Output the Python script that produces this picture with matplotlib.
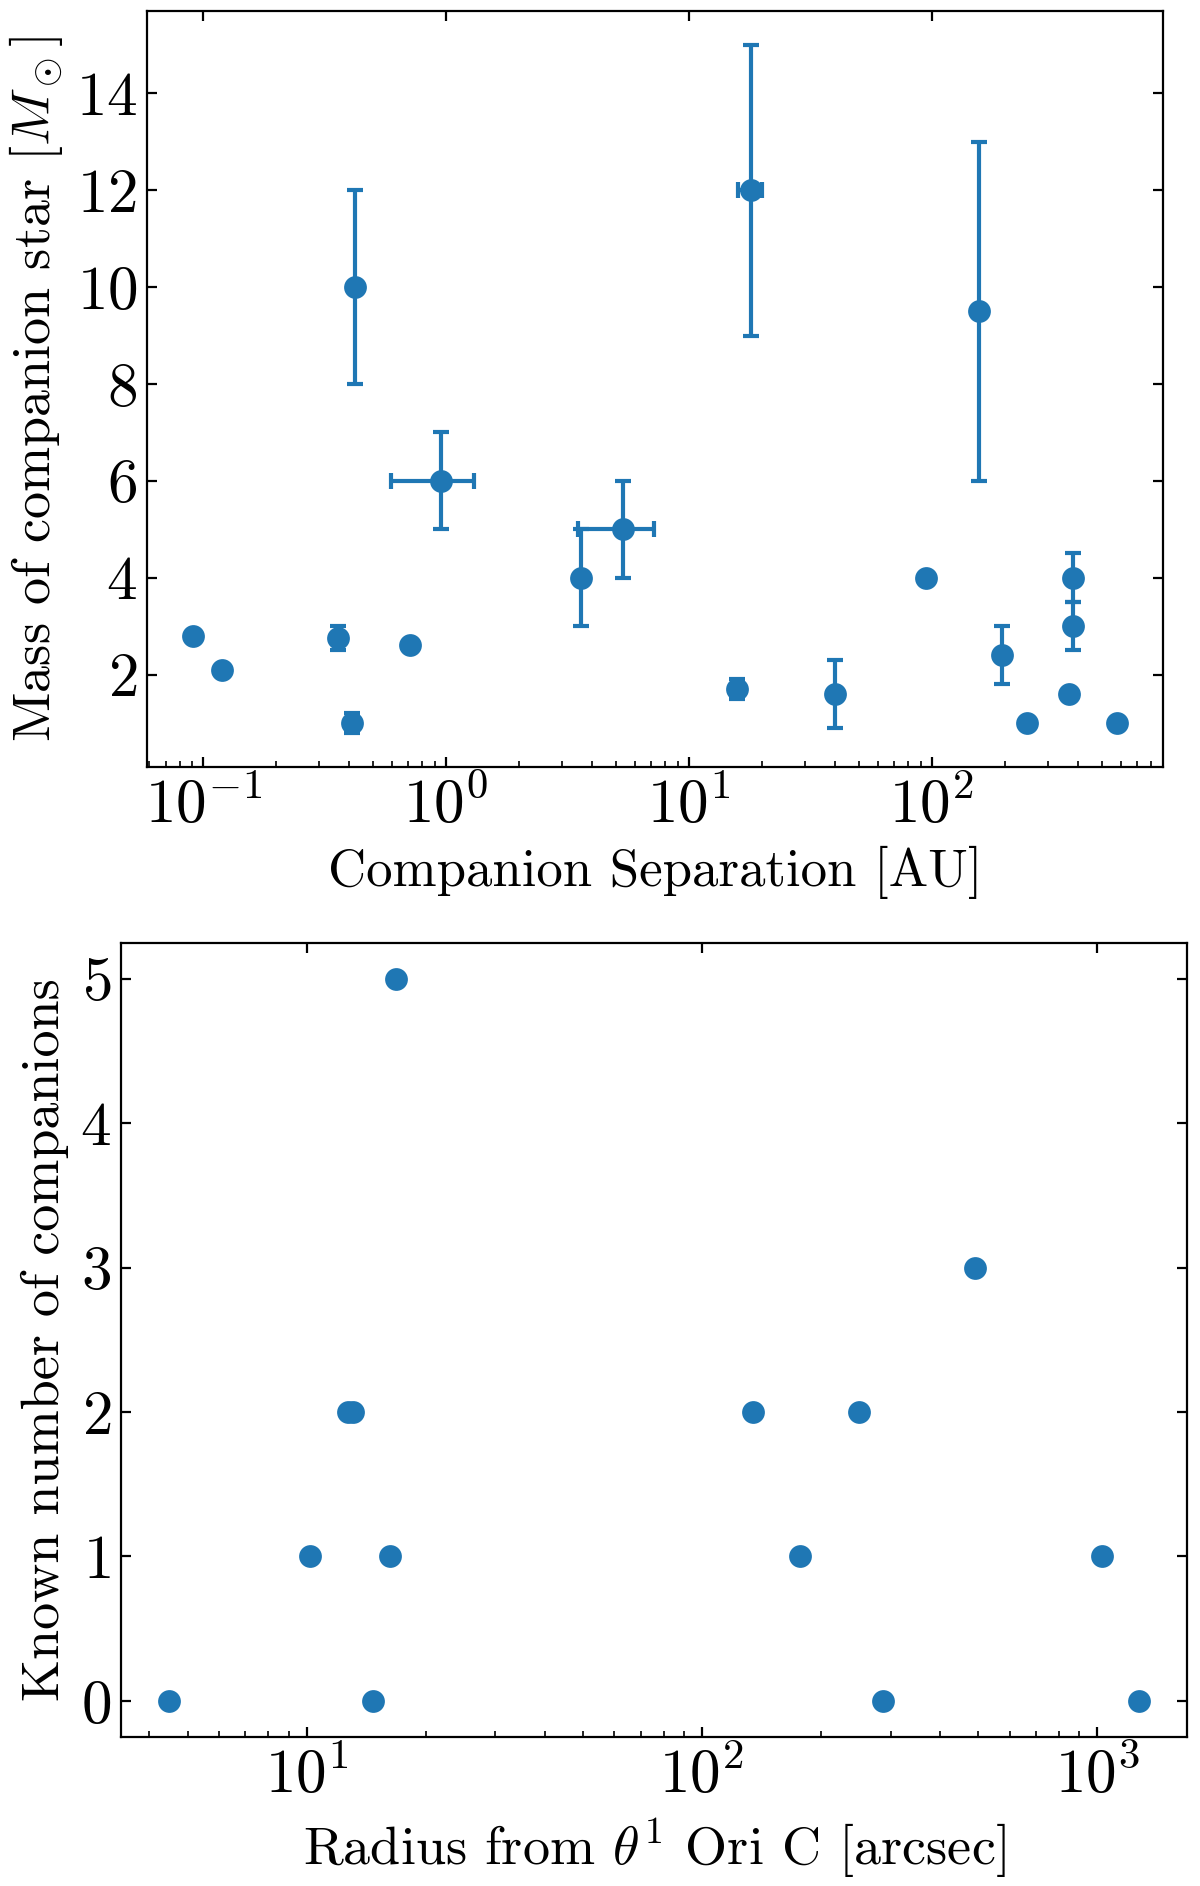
import numpy as np
import matplotlib
matplotlib.use("Agg")
import matplotlib.pyplot as plt
from matplotlib.ticker import MultipleLocator

plt.rcParams['font.family'] = 'serif'
plt.rcParams['font.serif'] = ['cmr10']
plt.rcParams['mathtext.fontset'] = 'cm'
plt.rcParams['axes.formatter.use_mathtext'] = True
plt.rcParams['axes.unicode_minus'] = False

# top panel: companion separation vs companion mass
sep = [0.091, 0.12, 0.36, 0.41, 0.42, 0.71, 0.95, 3.6, 5.36, 15.8,
       18.0, 40.0, 95.0, 157.0, 195.0, 247.0, 366.0, 381.0, 381.0, 578.0]
sep_err = [0, 0, 0, 0, 0, 0, 0.355, 0, 1.85, 0,
           2.0, 0, 0, 0, 0, 0, 0, 0, 0, 0]
mass = [2.8, 2.1, 2.75, 1.0, 10.0, 2.6, 6.0, 4.0, 5.0, 1.7,
        12.0, 1.6, 4.0, 9.5, 2.4, 1.0, 1.6, 4.0, 3.0, 1.0]
mass_err = [0, 0, 0.25, 0.2, 2.0, 0, 1.0, 1.0, 1.0, 0.2,
            3.0, 0.7, 0, 3.5, 0.6, 0, 0, 0.5, 0.5, 0]

# bottom panel: distance from theta1 Ori C vs number of companions
radius = [4.49, 10.2, 12.7, 13.1, 14.7, 16.2, 16.8,
          134.6, 177.0, 250.0, 287.0, 490.0, 1026.0, 1271.0]
n_comp = [0, 1, 2, 2, 0, 1, 5,
          2, 1, 2, 0, 3, 1, 0]

fig = plt.figure(figsize=(6.0, 9.43), dpi=200)

ax1 = fig.add_axes([0.1225, 0.5933, 0.8467, 0.4011])
ax1.errorbar(sep, mass, xerr=sep_err, yerr=mass_err, fmt='o', color='C0',
             markersize=7.2, elinewidth=1.5, capsize=3, capthick=1.5)
ax1.set_xscale('log')
ax1.yaxis.set_major_locator(MultipleLocator(2))
ax1.set_xlabel('Companion Separation [AU]', fontsize=19)
ax1.set_ylabel(r'Mass of companion star [$M_\odot$]', fontsize=19.5)

ax2 = fig.add_axes([0.1006, 0.0790, 0.8886, 0.4212])
ax2.plot(radius, n_comp, 'o', color='C0', markersize=7.2)
ax2.set_xscale('log')
ax2.set_xlabel(r'Radius from $\theta^1$ Ori C [arcsec]', fontsize=19.5)
ax2.set_ylabel('Known number of companions', fontsize=19.5)

for ax in (ax1, ax2):
    ax.tick_params(which='both', direction='in', top=True, right=True, labelsize=22)
    ax.tick_params(which='minor', top=False)

fig.savefig('out.png', dpi=200)
